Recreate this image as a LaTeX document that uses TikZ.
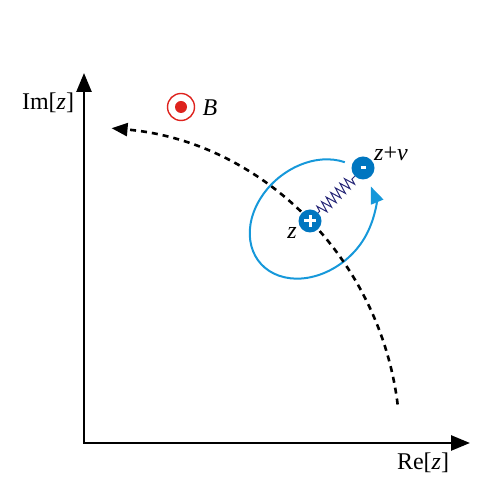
\documentclass[tikz,border=0pt]{standalone}
\usepackage{fontspec}
\setmainfont{Liberation Serif}
\usetikzlibrary{arrows.meta,decorations.pathmorphing}
\definecolor{ellblue}{RGB}{22,152,218}
\definecolor{chgblue}{RGB}{0,118,192}
\definecolor{springc}{RGB}{40,40,120}
\definecolor{bred}{RGB}{222,35,30}
\begin{document}
\begin{tikzpicture}[x=1pt,y=1pt,
  axis/.style={line width=2.6pt, line join=miter, {Triangle[length=19pt,width=15pt]}-{Triangle[length=19pt,width=15pt]}},
  lbl/.style={font=\fontsize{24}{27}\selectfont, inner sep=0pt},
  charge/.style={circle, fill=chgblue, minimum size=23pt, inner sep=0pt},
  sign/.style={white, line width=3pt},
  traj/.style={line width=2.6pt, dash pattern=on 6pt off 5pt, -{Triangle[length=16pt,width=13pt]}},
  orbit/.style={ellblue, line width=2pt, -{Triangle[length=17pt,width=13pt]}},
  spring/.style={springc, line width=1pt, decorate, decoration={zigzag, segment length=6.5pt, amplitude=5.5pt, pre length=2pt, post length=2pt}}
  ]
\useasboundingbox (0,0) rectangle (497,497);
% axes
\coordinate (O) at (84,54);
\coordinate (Ytip) at (84,424);
\coordinate (Xtip) at (470,54);
\draw[axis] (Ytip) -- (O) -- (Xtip);
\node[lbl] (imlbl) at (48,394) {Im[\textit{z}]};
\node[lbl] (relbl) at (423,34) {Re[\textit{z}]};
% magnetic field
\node[circle, draw=bred, line width=1.4pt, minimum size=27pt, inner sep=0pt] (Bring) at (181,390) {};
\node[circle, fill=bred, minimum size=12pt, inner sep=0pt] (Bdot) at (Bring.center) {};
\node[lbl] (Blbl) at (210,389) {\textit{B}};
% orbit ellipse
\begin{scope}[shift={(312,278)}, rotate=40]
  \draw[orbit] (25:68 and 53) arc[start angle=25, end angle=346, x radius=68, y radius=53];
\end{scope}
% trajectory
\draw[traj] ([shift={(7:316)}]O) arc[start angle=7, end angle=85, radius=316];
% dipole
\node[charge] (plus) at (310,276) {};
\node[charge] (minus) at (363,329) {};
\draw[sign] ([xshift=-6pt]plus.center) -- ([xshift=6pt]plus.center)
            ([yshift=-6pt]plus.center) -- ([yshift=6pt]plus.center);
\draw[sign] ([xshift=-2.5pt]minus.center) -- ([xshift=2.5pt]minus.center);
\draw[spring] (plus) -- (minus);
\node[lbl] (zlbl) at (292,264) {\textit{z}};
\node[lbl, anchor=west] (zvlbl) at (374,343) {\textit{z}+\textit{v}};
\end{tikzpicture}
\end{document}
